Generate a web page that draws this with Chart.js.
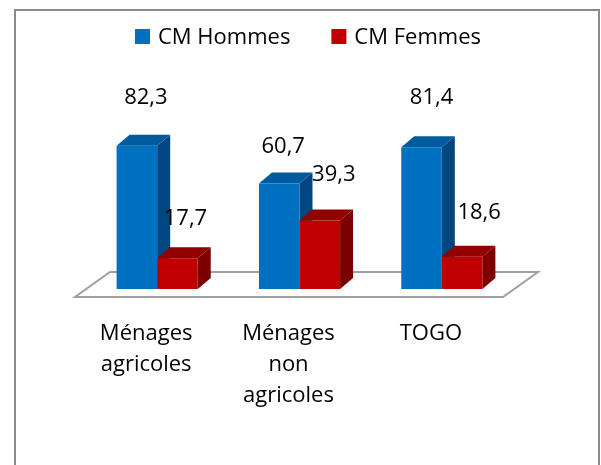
<!DOCTYPE html>
<html><head><meta charset="utf-8">
<script src="https://cdn.jsdelivr.net/npm/chart.js@4"></script>
<style>html,body{margin:0;padding:0;background:#fff;}#wrap{width:601px;height:465px;position:relative;}</style>
</head><body><div id="wrap"><canvas id="c" width="601" height="465"></canvas></div>
<script>
// ---- data ----
const categories = [['Ménages','agricoles'],['Ménages','non','agricoles'],['TOGO']];
const seriesNames = ['CM Hommes','CM Femmes'];
const hommes = [82.3, 60.7, 81.4];
const femmes = [17.7, 39.3, 18.6];

// ---- styles ----
const FONT = '"Open Sans", "Noto Sans", sans-serif';
const frontColors = ['#0070C0', '#C00000'];
const sideColors = ['#00467F', '#7B0000'];
const topColors = ['#005A9E', '#930000'];
const DX = 13, DY = 11;
// label nudges (px) relative to the bar's front-top centre, per dataset / category
const labelNudge = [[[9,-42],[4,-30],[10,-43]], [[8,-33],[14,-40],[17,-38]]];
const fmt = v => v.toFixed(1).replace('.', ',');

const threeD = {
  id: 'threeD',
  beforeDraw(chart) {
    const ctx = chart.ctx, a = chart.chartArea;
    ctx.save();
    // outer frame
    ctx.strokeStyle = '#8A8A8A'; ctx.lineWidth = 2;
    ctx.strokeRect(15, 10, 584, 470);
    // floor
    ctx.beginPath();
    ctx.moveTo(a.left - 11, a.bottom + 8);
    ctx.lineTo(a.right - 10, a.bottom + 8);
    ctx.lineTo(a.right + 25, a.bottom - 17);
    ctx.lineTo(a.left + 24, a.bottom - 17);
    ctx.closePath();
    ctx.fillStyle = '#FFFFFF'; ctx.fill();
    ctx.strokeStyle = '#A0A0A0'; ctx.lineWidth = 2; ctx.stroke();
    ctx.restore();
  },
  beforeDatasetsDraw(chart) {
    const ctx = chart.ctx;
    ctx.save();
    const metas = [0, 1].map(i => chart.getDatasetMeta(i));
    // side faces
    metas.forEach((m, di) => m.data.forEach(b => {
      const r = b.x + b.width / 2;
      ctx.beginPath();
      ctx.moveTo(r, b.y); ctx.lineTo(r + DX, b.y - DY);
      ctx.lineTo(r + DX, b.base - DY); ctx.lineTo(r, b.base);
      ctx.closePath(); ctx.fillStyle = sideColors[di]; ctx.fill();
    }));
    // top faces
    metas.forEach((m, di) => m.data.forEach(b => {
      const l = b.x - b.width / 2, r = b.x + b.width / 2;
      ctx.beginPath();
      ctx.moveTo(l, b.y); ctx.lineTo(l + DX, b.y - DY);
      ctx.lineTo(r + DX, b.y - DY); ctx.lineTo(r, b.y);
      ctx.closePath(); ctx.fillStyle = topColors[di]; ctx.fill();
    }));
    ctx.restore();
  },
  afterDatasetsDraw(chart) {
    const ctx = chart.ctx;
    ctx.save();
    ctx.font = '22px ' + FONT; ctx.fillStyle = '#000';
    ctx.textAlign = 'center'; ctx.textBaseline = 'alphabetic';
    [0, 1].forEach(di => {
      const ds = chart.data.datasets[di];
      chart.getDatasetMeta(di).data.forEach((b, i) => {
        const n = labelNudge[di][i];
        ctx.fillText(fmt(ds.data[i]), b.x + n[0], b.y + n[1]);
      });
    });
    // legend
    ctx.textAlign = 'left';
    const box = 15, gapT = 8, gapI = 41;
    const ws = chart.data.datasets.map(d => ctx.measureText(d.label).width);
    const total = ws.reduce((s, w) => s + box + gapT + w, 0) + gapI;
    let x = 308 - total / 2;
    chart.data.datasets.forEach((d, i) => {
      ctx.fillStyle = frontColors[i];
      ctx.fillRect(x, 29, box, box);
      ctx.fillStyle = '#000';
      ctx.fillText(d.label, x + box + gapT, 44);
      x += box + gapT + ws[i] + gapI;
    });
    ctx.restore();
  }
};

function build() {
  new Chart(document.getElementById('c'), {
    type: 'bar',
    data: {
      labels: categories,
      datasets: [
        { label: seriesNames[0], data: hommes, backgroundColor: frontColors[0], borderWidth: 0 },
        { label: seriesNames[1], data: femmes, backgroundColor: frontColors[1], borderWidth: 0 }
      ]
    },
    options: {
      responsive: false,
      animation: false,
      layout: { padding: { left: 86, right: 88, top: 115, bottom: 25 } },
      datasets: { bar: { categoryPercentage: 0.57, barPercentage: 1.0 } },
      plugins: { legend: { display: false }, tooltip: { enabled: false } },
      scales: {
        x: {
          grid: { display: false, drawTicks: false },
          border: { display: false },
          ticks: {
            color: '#000', padding: 29, labelOffset: -11, maxRotation: 0, autoSkip: false,
            font: { family: FONT, size: 22, lineHeight: 31 / 22 }
          }
        },
        y: { display: false, min: 0, max: 100 }
      }
    },
    plugins: [threeD]
  });
}
if (document.fonts && document.fonts.load) {
  document.fonts.load('22px "Open Sans"').then(build, build);
} else { build(); }
</script>
</body></html>
